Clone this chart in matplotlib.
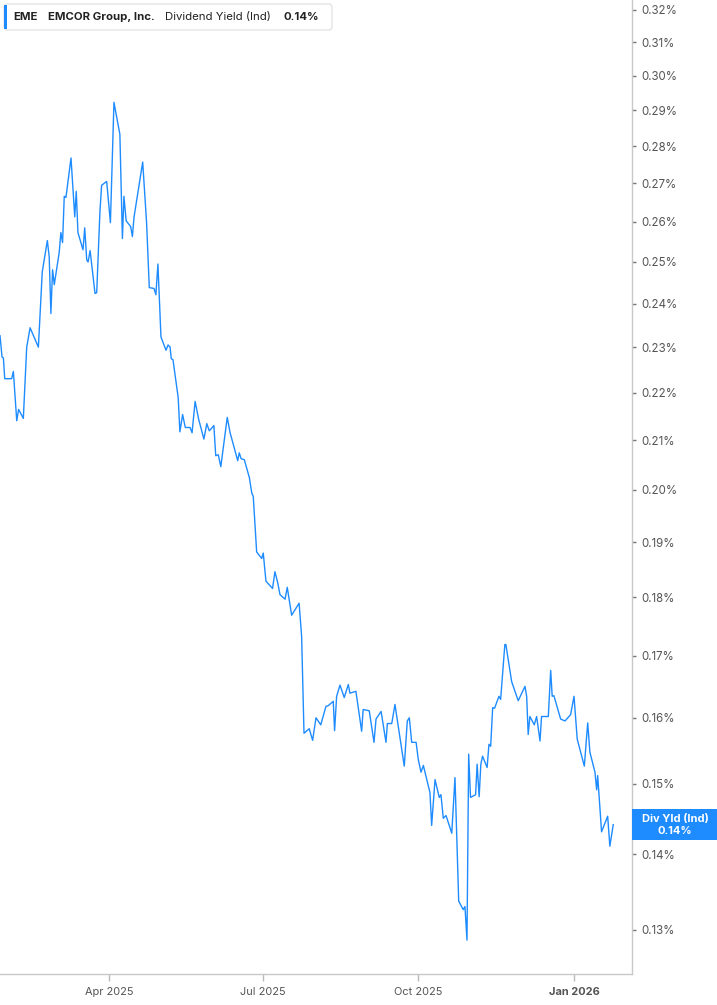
import numpy as np
import pandas as pd
import matplotlib
matplotlib.use("Agg")
import matplotlib.pyplot as plt
from matplotlib.patches import FancyBboxPatch, Rectangle
from matplotlib.ticker import FixedLocator, NullLocator, FuncFormatter

plt.rcParams['font.family'] = ['Inter', 'DejaVu Sans']

# dividend yield (%), days counted from 2025-01-01
days = [25.5, 26.7, 27.5, 28.3, 32.4, 33.4, 35.4, 36.5, 39.3, 41.3,
        43.3, 48.2, 50.5, 53.5, 54.6, 55.6, 56.6, 57.6, 60.5, 61.5,
        62.5, 63.5, 64.5, 67.5, 69.7, 70.6, 71.6, 74.6, 75.6, 76.8,
        77.6, 78.8, 81.7, 82.7, 84.6, 85.6, 88.6, 90.8, 92.9, 96.4,
        97.9, 98.8, 100.1, 102.8, 103.8, 104.8, 109.9, 112.2, 113.8, 116.6,
        117.7, 118.9, 120.7, 123.7, 124.9, 126.1, 126.8, 127.8, 130.9, 131.9,
        133.5, 135.1, 137.9, 139.1, 140.9, 143.0, 146.1, 147.8, 149.3, 152.0,
        153.1, 154.6, 156.1, 159.9, 161.6, 166.1, 167.0, 168.1, 170.0, 173.0,
        174.4, 175.3, 177.3, 180.3, 181.2, 182.8, 186.7, 188.1, 189.7, 191.1,
        194.1, 195.4, 198.0, 202.4, 203.9, 205.3, 208.4, 210.4, 212.4, 215.2,
        218.3, 219.6, 222.6, 223.4, 224.6, 226.6, 229.1, 231.5, 232.5, 236.0,
        239.4, 240.3, 243.9, 246.7, 247.9, 250.9, 253.8, 254.6, 257.2, 259.1,
        261.1, 264.6, 266.4, 267.6, 269.0, 271.6, 272.9, 274.5, 275.9, 279.8,
        280.8, 282.8, 285.3, 286.3, 287.7, 289.3, 292.7, 294.6, 296.8, 299.5,
        300.5, 301.7, 302.7, 303.8, 306.8, 307.7, 308.9, 309.9, 310.9, 313.6,
        314.7, 315.7, 316.9, 318.0, 320.6, 321.6, 324.1, 324.7, 328.1, 328.7,
        332.0, 336.0, 337.0, 337.9, 338.9, 341.5, 342.9, 344.9, 345.8, 349.8,
        351.2, 352.1, 353.1, 357.1, 359.7, 363.0, 365.0, 366.9, 371.1, 373.1,
        374.4, 377.4, 378.4, 379.0, 381.3, 384.9, 386.2, 388.2]
yld = [.2326, .2278, .2276, .2230, .2230, .2246, .2140, .2164, .2145, .2300,
       .2344, .2300, .2476, .2553, .2513, .2377, .2481, .2445, .2523, .2573,
       .2548, .2666, .2663, .2768, .2613, .2679, .2573, .2530, .2585, .2505,
       .2500, .2528, .2424, .2426, .2626, .2695, .2705, .2598, .2923, .2833,
       .2558, .2666, .2603, .2588, .2563, .2613, .2757, .2598, .2438, .2436,
       .2421, .2495, .2323, .2293, .2305, .2300, .2274, .2272, .2189, .2117,
       .2153, .2126, .2126, .2115, .2181, .2143, .2102, .2134, .2119, .2130,
       .2068, .2070, .2046, .2147, .2115, .2058, .2074, .2062, .2060, .2024,
       .1994, .1987, .1882, .1870, .1880, .1829, .1816, .1846, .1827, .1805,
       .1797, .1818, .1769, .1790, .1733, .1576, .1583, .1565, .1600, .1589,
       .1618, .1619, .1626, .1580, .1634, .1652, .1632, .1653, .1639, .1642,
       .1579, .1613, .1611, .1562, .1598, .1610, .1562, .1591, .1591, .1621,
       .1586, .1526, .1595, .1600, .1562, .1562, .1536, .1517, .1527, .1487,
       .1440, .1506, .1480, .1484, .1450, .1454, .1429, .1509, .1337, .1326,
       .1330, .1287, .1544, .1480, .1484, .1529, .1481, .1529, .1541, .1524,
       .1559, .1556, .1616, .1615, .1634, .1629, .1719, .1719, .1658, .1653,
       .1627, .1650, .1634, .1574, .1602, .1589, .1602, .1564, .1602, .1602,
       .1676, .1634, .1635, .1598, .1595, .1605, .1634, .1567, .1526, .1592,
       .1547, .1517, .1491, .1512, .1431, .1453, .1411, .1441]

y_ticks = [0.13, 0.14, 0.15, 0.16, 0.17, 0.18, 0.19, 0.20, 0.21, 0.22,
           0.23, 0.24, 0.25, 0.26, 0.27, 0.28, 0.29, 0.30, 0.31, 0.32]
x_ticks = ['2025-04-01', '2025-07-01', '2025-10-01', '2026-01-01']
x_labels = ['Apr 2025', 'Jul 2025', 'Oct 2025', 'Jan 2026']

dates = pd.Timestamp('2025-01-01') + pd.to_timedelta(days, unit='D')
blue = '#1e8cff'

W, H = 717, 1005
fig = plt.figure(figsize=(W / 100, H / 100), dpi=100)
ax = fig.add_axes([0, 31 / H, 632 / W, 974 / H])

ax.plot(dates, yld, color=blue, lw=1.0)

ax.set_yscale('log')
ax.set_ylim(0.1245, 0.3231)
ax.set_xlim(pd.Timestamp('2025-01-01') + pd.Timedelta(days=25.5),
            pd.Timestamp('2025-01-01') + pd.Timedelta(days=399.3))
ax.yaxis.set_major_locator(FixedLocator(y_ticks))
ax.yaxis.set_minor_locator(NullLocator())
ax.yaxis.set_major_formatter(FuncFormatter(lambda v, p: f'{v:.2f}%'))
ax.yaxis.tick_right()
ax.tick_params(axis='y', length=3, width=1, color='#777', labelcolor='#555',
               labelsize=8.3, pad=4)

ax.set_xticks(pd.to_datetime(x_ticks), x_labels)
ax.tick_params(axis='x', length=5, width=1, color='#bbb', labelcolor='#555',
               labelsize=7.9, pad=4)
ax.get_xticklabels()[-1].set_fontweight('bold')

for s in ['left', 'top']:
    ax.spines[s].set_visible(False)
for s in ['right', 'bottom']:
    ax.spines[s].set_color('#c8c8c8')
    ax.spines[s].set_linewidth(1)


def fx(px):
    return px / W


def fy(py):
    return 1 - py / H


# header box
fig.patches.append(FancyBboxPatch((fx(4), fy(30)), fx(328), 26 / H,
                                  boxstyle='round,pad=0,rounding_size=0.004',
                                  transform=fig.transFigure, facecolor='white',
                                  edgecolor='#e4e4e4', lw=1, zorder=5))
fig.patches.append(Rectangle((fx(4), fy(29)), fx(3), 24 / H,
                             transform=fig.transFigure, facecolor=blue,
                             edgecolor='none', zorder=6))
hdr = [(13, 'EME', 'bold'), (48, 'EMCOR Group, Inc.', 'bold'),
       (165, 'Dividend Yield (Ind)', 'normal'), (283, '0.14%', 'bold')]
for px, t, w in hdr:
    fig.text(fx(px), fy(17), t, fontsize=8.2, fontweight=w, color='#222',
             va='center', ha='left', zorder=7)

# last value tag
fig.patches.append(Rectangle((fx(632), fy(840)), fx(85), 31 / H,
                             transform=fig.transFigure, facecolor=blue,
                             edgecolor='none', zorder=6))
fig.text(fx(675), fy(819), 'Div Yld (Ind)', fontsize=8, fontweight='bold',
         color='white', ha='center', va='center', zorder=7)
fig.text(fx(675), fy(831), f'{yld[-1]:.2f}%', fontsize=8, fontweight='bold',
         color='white', ha='center', va='center', zorder=7)

fig.savefig('out.png', dpi=100)
